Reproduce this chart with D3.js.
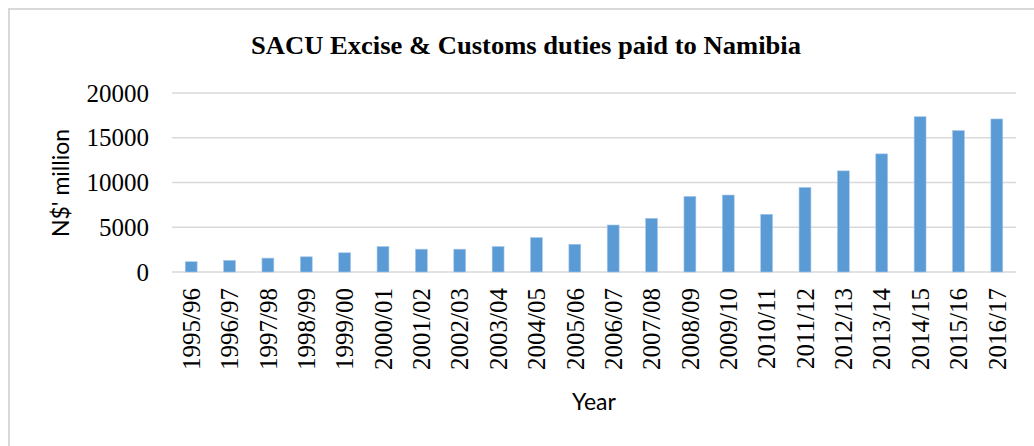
<!DOCTYPE html>
<html>
<head>
<meta charset="utf-8">
<script src="https://cdn.jsdelivr.net/npm/d3@7"></script>
<style>
	body { margin: 0; background: #fff; }
	svg { display: block; }
</style>
</head>
<body>
<div id="chart"></div>
<script>
// years and duties (N$ million)
var years = ["1995/96", "1996/97", "1997/98", "1998/99", "1999/00", "2000/01", "2001/02", "2002/03",
	"2003/04", "2004/05", "2005/06", "2006/07", "2007/08", "2008/09", "2009/10", "2010/11",
	"2011/12", "2012/13", "2013/14", "2014/15", "2015/16", "2016/17"];
var duties = [1150, 1300, 1550, 1700, 2150, 2850, 2550, 2550, 2850, 3850, 3100, 5250,
	6000, 8450, 8600, 6450, 9450, 11300, 13200, 17350, 15800, 17100];
var yTicks = [0, 5000, 10000, 15000, 20000];

var width = 1034,
	height = 446;
var margin = {top: 93, right: 18, bottom: 174, left: 172};

var svg = d3.select("#chart")
	.append("svg")
	.attr("width", width)
	.attr("height", height);

// light frame round the chart area (only top and left are visible)
svg.append("rect")
	.attr("x", 9)
	.attr("y", 9)
	.attr("width", width + 20)
	.attr("height", height + 20)
	.attr("fill", "none")
	.attr("stroke", "#d9d9d9")
	.attr("stroke-width", 2);

var x = d3.scaleBand()
	.domain(years)
	.range([margin.left, width - margin.right])
	.paddingInner(0.69)
	.paddingOuter(0.345);

var y = d3.scaleLinear()
	.domain([0, 20000])
	.range([height - margin.bottom, margin.top]);

// gridlines
svg.append("g")
	.selectAll("line")
	.data(yTicks)
	.enter()
	.append("line")
	.attr("x1", margin.left)
	.attr("x2", width - margin.right)
	.attr("y1", function (d) { return y(d); })
	.attr("y2", function (d) { return y(d); })
	.attr("stroke", "#d9d9d9")
	.attr("stroke-width", 1.5);

// bars
svg.append("g")
	.selectAll("rect")
	.data(duties)
	.enter()
	.append("rect")
	.attr("x", function (d, i) { return x(years[i]); })
	.attr("y", function (d) { return y(d); })
	.attr("width", x.bandwidth())
	.attr("height", function (d) { return y(0) - y(d); })
	.attr("fill", "#5b9bd5")
	.attr("stroke", "#a9c8ea")
	.attr("stroke-width", 0.6);

// y axis labels
var yAxis = svg.append("g")
	.attr("transform", "translate(" + margin.left + ",0)")
	.call(d3.axisLeft(y).tickValues(yTicks).tickSize(0).tickPadding(23).tickFormat(d3.format("d")));
yAxis.select(".domain").remove();
yAxis.selectAll("text")
	.attr("font-family", "'Liberation Serif', 'Times New Roman', serif")
	.attr("font-size", 25)
	.attr("fill", "#000")
	.attr("dy", "0.32em");

// x axis labels, rotated
var xAxis = svg.append("g")
	.attr("transform", "translate(0," + y(0) + ")")
	.call(d3.axisBottom(x).tickSize(0));
xAxis.select(".domain").remove();
xAxis.selectAll("text")
	.attr("font-family", "'Liberation Serif', 'Times New Roman', serif")
	.attr("font-size", 25)
	.attr("fill", "#000")
	.attr("transform", "rotate(-90)")
	.attr("x", -16)
	.attr("y", 0)
	.attr("dy", "0.35em")
	.style("text-anchor", "end");

// title
svg.append("text")
	.attr("x", 526)
	.attr("y", 54)
	.attr("text-anchor", "middle")
	.attr("font-family", "'Liberation Serif', 'Times New Roman', serif")
	.attr("font-weight", "bold")
	.attr("font-size", 25)
	.attr("textLength", 550)
	.attr("lengthAdjust", "spacingAndGlyphs")
	.text("SACU Excise & Customs duties paid to Namibia");

// axis titles
svg.append("text")
	.attr("transform", "translate(69,183) rotate(-90)")
	.attr("text-anchor", "middle")
	.attr("font-family", "Lato, 'Open Sans', sans-serif")
	.attr("font-size", 23)
	.text("N$' million");

svg.append("text")
	.attr("x", 594)
	.attr("y", 410)
	.attr("text-anchor", "middle")
	.attr("font-family", "Lato, 'Open Sans', sans-serif")
	.attr("font-size", 23)
	.text("Year");
</script>
</body>
</html>
